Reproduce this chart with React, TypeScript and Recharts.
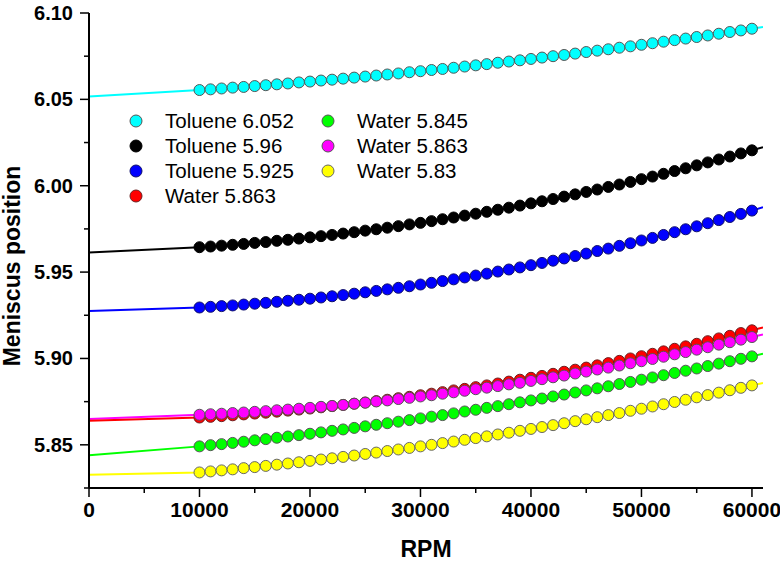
import { ComposedChart, Line, XAxis, YAxis } from 'recharts';

// rotor speeds of the measured points
const RPM = [
  10000, 11000, 12000, 13000, 14000, 15000, 16000, 17000, 18000, 19000,
  20000, 21000, 22000, 23000, 24000, 25000, 26000, 27000, 28000, 29000,
  30000, 31000, 32000, 33000, 34000, 35000, 36000, 37000, 38000, 39000,
  40000, 41000, 42000, 43000, 44000, 45000, 46000, 47000, 48000, 49000,
  50000, 51000, 52000, 53000, 54000, 55000, 56000, 57000, 58000, 59000, 60000,
];
// the fitted curves run from 0 to the end of the axis
const FIT_FROM = 0;
const FIT_TO = 61000;

const toluene6052 = [
  6.0554, 6.0558, 6.0563, 6.0568, 6.0572, 6.0577, 6.0582, 6.0587, 6.0592, 6.0598,
  6.0603, 6.0609, 6.0614, 6.062, 6.0626, 6.0632, 6.0638, 6.0644, 6.065, 6.0657,
  6.0663, 6.067, 6.0676, 6.0683, 6.069, 6.0697, 6.0704, 6.0712, 6.0719, 6.0726,
  6.0734, 6.0742, 6.075, 6.0757, 6.0765, 6.0774, 6.0782, 6.079, 6.0799, 6.0807,
  6.0816, 6.0825, 6.0834, 6.0843, 6.0852, 6.0861, 6.087, 6.088, 6.089, 6.0899, 6.0909,
];
const toluene596 = [
  5.9644, 5.9648, 5.9653, 5.9658, 5.9663, 5.9669, 5.9674, 5.9681, 5.9687, 5.9694,
  5.9701, 5.9708, 5.9715, 5.9723, 5.9731, 5.974, 5.9748, 5.9757, 5.9766, 5.9776,
  5.9785, 5.9795, 5.9806, 5.9816, 5.9827, 5.9838, 5.9849, 5.9861, 5.9873, 5.9885,
  5.9898, 5.991, 5.9923, 5.9937, 5.995, 5.9964, 5.9978, 5.9993, 6.0007, 6.0022,
  6.0038, 6.0053, 6.0069, 6.0085, 6.0101, 6.0118, 6.0135, 6.0152, 6.0169, 6.0187, 6.0205,
];
const toluene5925 = [
  5.9295, 5.9299, 5.9303, 5.9307, 5.9312, 5.9317, 5.9322, 5.9328, 5.9334, 5.934,
  5.9346, 5.9353, 5.936, 5.9367, 5.9375, 5.9383, 5.9391, 5.94, 5.9409, 5.9418,
  5.9428, 5.9438, 5.9448, 5.9458, 5.9469, 5.948, 5.9491, 5.9503, 5.9515, 5.9527,
  5.954, 5.9553, 5.9566, 5.9579, 5.9593, 5.9607, 5.9622, 5.9636, 5.9652, 5.9667,
  5.9683, 5.9698, 5.9715, 5.9731, 5.9748, 5.9765, 5.9783, 5.9801, 5.9819, 5.9837, 5.9856,
];
const water5863red = [
  5.8658, 5.8662, 5.8666, 5.8671, 5.8676, 5.8681, 5.8686, 5.8692, 5.8698, 5.8704,
  5.871, 5.8717, 5.8724, 5.8731, 5.8738, 5.8745, 5.8753, 5.8761, 5.877, 5.8778,
  5.8787, 5.8796, 5.8805, 5.8815, 5.8824, 5.8834, 5.8844, 5.8855, 5.8866, 5.8877,
  5.8888, 5.8899, 5.8911, 5.8923, 5.8935, 5.8947, 5.896, 5.8973, 5.8986, 5.9,
  5.9013, 5.9027, 5.9041, 5.9056, 5.907, 5.9085, 5.91, 5.9116, 5.9131, 5.9147, 5.9163,
];
const water5845 = [
  5.8491, 5.8498, 5.8504, 5.8511, 5.8518, 5.8526, 5.8533, 5.8541, 5.8548, 5.8556,
  5.8564, 5.8572, 5.8581, 5.8589, 5.8598, 5.8607, 5.8616, 5.8625, 5.8634, 5.8643,
  5.8653, 5.8663, 5.8672, 5.8682, 5.8693, 5.8703, 5.8714, 5.8724, 5.8735, 5.8746,
  5.8757, 5.8768, 5.878, 5.8791, 5.8803, 5.8815, 5.8827, 5.8839, 5.8852, 5.8864,
  5.8877, 5.889, 5.8903, 5.8916, 5.8929, 5.8942, 5.8956, 5.897, 5.8984, 5.8998, 5.9012,
];
const water5863pink = [
  5.8674, 5.8677, 5.868, 5.8684, 5.8687, 5.8691, 5.8695, 5.87, 5.8704, 5.8709,
  5.8714, 5.872, 5.8725, 5.8731, 5.8738, 5.8744, 5.8751, 5.8757, 5.8765, 5.8772,
  5.878, 5.8787, 5.8796, 5.8804, 5.8813, 5.8822, 5.8831, 5.884, 5.885, 5.8859,
  5.887, 5.888, 5.8891, 5.8901, 5.8913, 5.8924, 5.8936, 5.8947, 5.8959, 5.8972,
  5.8984, 5.8997, 5.901, 5.9024, 5.9037, 5.9051, 5.9065, 5.908, 5.9094, 5.9109, 5.9124,
];
const water583 = [
  5.834, 5.8346, 5.8352, 5.8358, 5.8365, 5.8371, 5.8378, 5.8385, 5.8392, 5.8399,
  5.8407, 5.8415, 5.8422, 5.843, 5.8438, 5.8447, 5.8455, 5.8464, 5.8473, 5.8482,
  5.8491, 5.85, 5.851, 5.8519, 5.8529, 5.8539, 5.8549, 5.856, 5.857, 5.8581,
  5.8592, 5.8603, 5.8614, 5.8625, 5.8637, 5.8648, 5.866, 5.8672, 5.8684, 5.8697,
  5.8709, 5.8722, 5.8735, 5.8748, 5.8761, 5.8775, 5.8788, 5.8802, 5.8816, 5.883, 5.8844,
];

// fitted curve values at 0 rpm and at the axis end
const toluene6052Fit = [6.0516, 6.0919];
const toluene596Fit = [5.9614, 6.0223];
const toluene5925Fit = [5.9275, 5.9875];
const water5863redFit = [5.864, 5.9179];
const water5845Fit = [5.8439, 5.9027];
const water5863pinkFit = [5.865, 5.9139];
const water583Fit = [5.8327, 5.8858];

const X_TICKS = [0, 5000, 10000, 15000, 20000, 25000, 30000, 35000, 40000, 45000, 50000, 55000, 60000];
const X_LABELS = ['0', '', '10000', '', '20000', '', '30000', '', '40000', '', '50000', '', '60000'];
const Y_TICKS = [5.825, 5.85, 5.875, 5.9, 5.925, 5.95, 5.975, 6.0, 6.025, 6.05, 6.075, 6.1];
const Y_LABELS = ['', '5.85', '', '5.90', '', '5.95', '', '6.00', '', '6.05', '', '6.10'];

const series = [
  { key: 'tol6052', name: 'Toluene 6.052', color: '#00ffff', edge: '#555555', dots: toluene6052, fit: toluene6052Fit },
  { key: 'tol596', name: 'Toluene 5.96', color: '#000000', edge: '#000000', dots: toluene596, fit: toluene596Fit },
  { key: 'tol5925', name: 'Toluene 5.925', color: '#0000ff', edge: '#10106a', dots: toluene5925, fit: toluene5925Fit },
  { key: 'wat5845', name: 'Water 5.845', color: '#00ff00', edge: '#555555', dots: water5845, fit: water5845Fit },
  { key: 'wat583', name: 'Water 5.83', color: '#ffff00', edge: '#666666', dots: water583, fit: water583Fit },
  { key: 'wat5863r', name: 'Water 5.863', color: '#ff0000', edge: '#6a2020', dots: water5863red, fit: water5863redFit },
  { key: 'wat5863p', name: 'Water 5.863', color: '#ff00ff', edge: '#555555', dots: water5863pink, fit: water5863pinkFit },
];

// legend order as in the figure: two columns
const legendCols = [
  ['tol6052', 'tol596', 'tol5925', 'wat5863r'],
  ['wat5845', 'wat5863p', 'wat583'],
];

const rows: Record<string, number | null>[] = [];
{
  const first: Record<string, number | null> = { rpm: FIT_FROM };
  series.forEach(s => { first[s.key + '_fit'] = s.fit[0]; first[s.key + '_dot'] = null; });
  rows.push(first);
  RPM.forEach((r, i) => {
    const row: Record<string, number | null> = { rpm: r };
    series.forEach(s => { row[s.key + '_fit'] = s.dots[i]; row[s.key + '_dot'] = s.dots[i]; });
    rows.push(row);
  });
  const last: Record<string, number | null> = { rpm: FIT_TO };
  series.forEach(s => { last[s.key + '_fit'] = s.fit[1]; last[s.key + '_dot'] = null; });
  rows.push(last);
}

const FONT = '"Liberation Sans", Arial, Helvetica, sans-serif';

const XTick = (props: any) => {
  const { x, y, index } = props;
  const label = X_LABELS[index];
  return (
    <g>
      <line x1={x} y1={y} x2={x} y2={y + (label ? 9 : 5)} stroke="#000" strokeWidth={1.5} />
      {label && (
        <text x={x} y={y + 29} textAnchor="middle" fontFamily={FONT} fontWeight="bold" fontSize={21} fill="#000">
          {label}
        </text>
      )}
    </g>
  );
};

const YTick = (props: any) => {
  const { x, y, index } = props;
  const label = Y_LABELS[index];
  return (
    <g>
      <line x1={x - (label ? 9 : 5)} y1={y} x2={x} y2={y} stroke="#000" strokeWidth={1.5} />
      {label && (
        <text x={x - 16} y={y + 7} textAnchor="end" fontFamily={FONT} fontWeight="bold" fontSize={20} fill="#000">
          {label}
        </text>
      )}
    </g>
  );
};

export default function App() {
  return (
    <div style={{ position: 'absolute', left: 0, top: 0, width: 780, height: 563, background: '#fff' }}>
      <ComposedChart width={780} height={563} data={rows} margin={{ top: 13, right: 17, bottom: 0, left: 0 }}>
        <XAxis
          dataKey="rpm"
          type="number"
          domain={[0, 61000]}
          ticks={X_TICKS}
          allowDataOverflow
          height={75}
          tickSize={0}
          tickMargin={0}
          tick={<XTick />}
          axisLine={{ stroke: '#000', strokeWidth: 2 }}
          label={{
            content: () => (
              <text x={426} y={557} textAnchor="middle" fontFamily={FONT} fontWeight="bold" fontSize={23} fill="#000">
                RPM
              </text>
            ),
          }}
        />
        <YAxis
          type="number"
          domain={[5.825, 6.1]}
          ticks={Y_TICKS}
          allowDataOverflow
          width={89}
          tickSize={0}
          tickMargin={0}
          tick={<YTick />}
          axisLine={{ stroke: '#000', strokeWidth: 2 }}
          label={{
            content: () => (
              <text
                transform="translate(20,266) rotate(-90)"
                textAnchor="middle"
                fontFamily={FONT}
                fontWeight="bold"
                fontSize={23}
                fill="#000"
              >
                Meniscus position
              </text>
            ),
          }}
        />
        {series.map(s => (
          <Line
            key={s.key + '_dot'}
            dataKey={s.key + '_dot'}
            name={s.name}
            stroke="none"
            dot={{ r: 5.5, fill: s.color, stroke: s.edge, strokeWidth: 1, fillOpacity: 1 }}
            activeDot={false}
            isAnimationActive={false}
          />
        ))}
        {[...series].reverse().map(s => (
          <Line
            key={s.key + '_fit'}
            dataKey={s.key + '_fit'}
            type="linear"
            stroke={s.color}
            strokeWidth={2}
            dot={false}
            activeDot={false}
            isAnimationActive={false}
          />
        ))}
      </ComposedChart>
      <div style={{ position: 'absolute', left: 126, top: 108, fontFamily: FONT, fontSize: 20.5, color: '#000' }}>
        {legendCols.map((col, ci) => (
          <div key={ci} style={{ position: 'absolute', left: ci * 192, top: 0, whiteSpace: 'nowrap' }}>
            {col.map((k, ri) => {
              const s = series.find(v => v.key === k)!;
              return (
                <div key={k} style={{ position: 'absolute', top: ri * 25, left: 0, height: 25, display: 'flex', alignItems: 'center' }}>
                  <svg width={20} height={20} style={{ display: 'block' }}>
                    <circle cx={10} cy={10} r={6} fill={s.color} stroke={s.edge} strokeWidth={1} />
                  </svg>
                  <span style={{ marginLeft: 19, lineHeight: '25px' }}>{s.name}</span>
                </div>
              );
            })}
          </div>
        ))}
      </div>
    </div>
  );
}
